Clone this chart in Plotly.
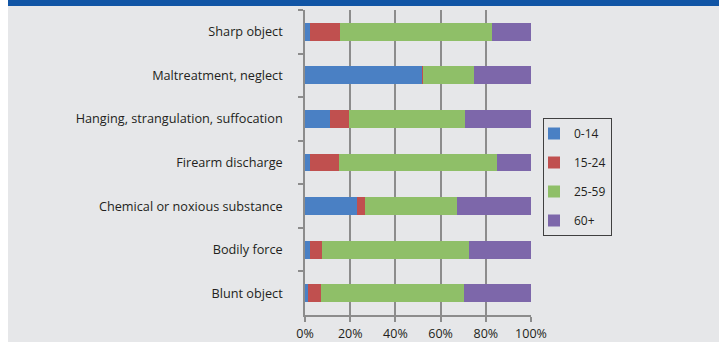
import plotly.graph_objects as go

# Weapon / mechanism categories, top to bottom
categories = [
    "Sharp object",
    "Maltreatment, neglect",
    "Hanging, strangulation, suffocation",
    "Firearm discharge",
    "Chemical or noxious substance",
    "Bodily force",
    "Blunt object",
]

# Share of victims by age group (%)
age_0_14 = [2.3, 51.9, 11.2, 2.3, 23.1, 2.3, 1.5]
age_15_24 = [13.3, 0.5, 8.4, 12.9, 3.6, 5.4, 5.7]
age_25_59 = [67.1, 22.5, 51.3, 69.9, 40.7, 65.0, 63.3]
age_60_plus = [17.3, 25.1, 29.1, 14.9, 32.6, 27.3, 29.5]

series_names = ["0-14", "15-24", "25-59", "60+"]
series_values = [age_0_14, age_15_24, age_25_59, age_60_plus]
series_colors = ["#4a80c4", "#c0504f", "#8fbf68", "#7d67aa"]

x_ticks = [0, 20, 40, 60, 80, 100]
x_tick_labels = ["0%", "20%", "40%", "60%", "80%", "100%"]

BG = "#e6e7e9"
GRID = "#8c8c8c"
FONT = "Open Sans"

fig = go.Figure()
for i, (name, vals, col) in enumerate(zip(series_names, series_values, series_colors)):
    fig.add_trace(go.Bar(
        y=categories, x=vals, name=name, orientation="h",
        marker=dict(color=col, line=dict(width=0)),
        legendgroup=f"g{i}",
    ))

# plot area spans x 305..531, y 10..315 in pixels
def px_x(p):
    return (p - 305) / 226.0

def px_y(p):
    return (315 - p) / 305.0

shapes = [
    # white page margins outside the grey panel
    dict(type="rect", xref="paper", yref="paper", x0=px_x(0), x1=px_x(8),
         y0=px_y(342), y1=px_y(0), fillcolor="white", line=dict(width=0), layer="below"),
    dict(type="rect", xref="paper", yref="paper", x0=px_x(719), x1=px_x(724),
         y0=px_y(342), y1=px_y(0), fillcolor="white", line=dict(width=0), layer="below"),
    # blue header band
    dict(type="rect", xref="paper", yref="paper", x0=px_x(8), x1=px_x(719),
         y0=px_y(6), y1=px_y(0), fillcolor="#1155a5", line=dict(width=0), layer="below"),
]

fig.update_layout(
    width=724, height=342,
    margin=dict(l=305, r=193, t=10, b=27),
    paper_bgcolor=BG, plot_bgcolor=BG,
    barmode="stack", bargap=0.59,
    font=dict(family=FONT, size=12, color="#231f20"),
    shapes=shapes,
    showlegend=True,
    legend=dict(
        x=px_x(543), y=px_y(118), xanchor="left", yanchor="top",
        bgcolor=BG, bordercolor="#404040", borderwidth=1,
        traceorder="grouped", tracegroupgap=10, itemwidth=30,
        indentation=-10,
        font=dict(family=FONT, size=12, color="#231f20"),
        itemclick=False,
    ),
    xaxis=dict(
        range=[0, 100], tickvals=x_ticks, ticktext=x_tick_labels,
        showgrid=True, gridcolor=GRID, gridwidth=1.5,
        showline=True, linecolor=GRID, linewidth=1.5,
        ticks="outside", ticklen=5, tickcolor=GRID, tickwidth=1.5,
        zeroline=False, fixedrange=True, automargin=False,
        ticklabelstandoff=1,
        tickfont=dict(size=12.5),
    ),
    yaxis=dict(
        categoryorder="array", categoryarray=categories,
        autorange="reversed",
        showline=True, linecolor=GRID, linewidth=1.5,
        ticks="outside", ticklen=5, tickcolor=GRID, tickwidth=1.5,
        tickson="boundaries", showgrid=False, automargin=False,
        ticklabelstandoff=18, fixedrange=True,
        tickfont=dict(size=12.7),
    ),
)

fig.write_html("out.html")
